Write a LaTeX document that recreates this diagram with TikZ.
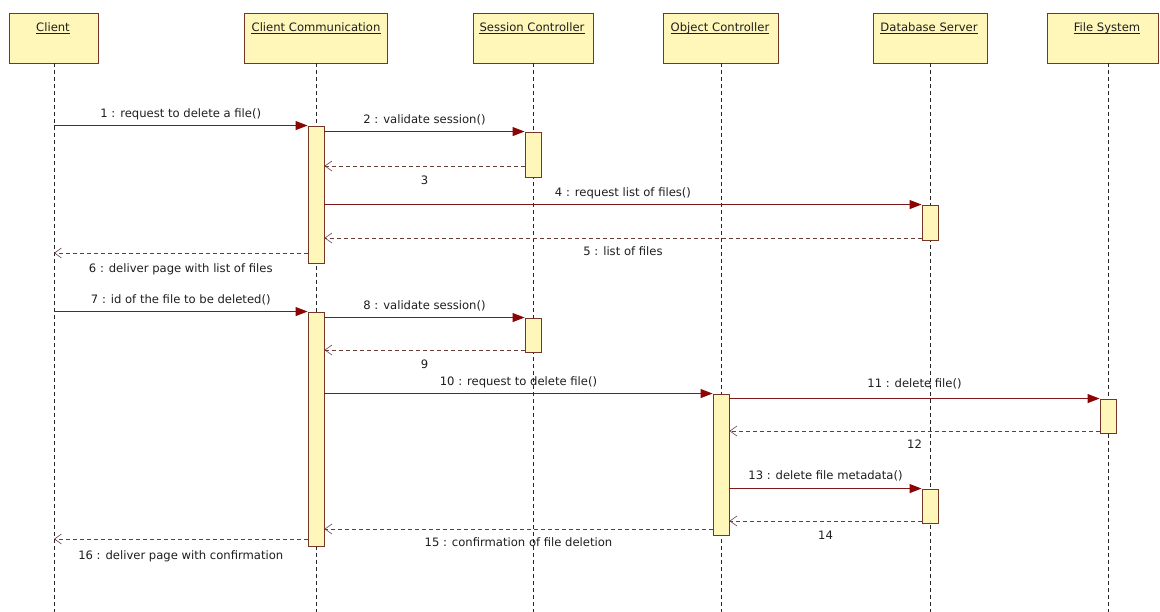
\documentclass[tikz,border=0pt]{standalone}
\usepackage{fontspec}
\setmainfont{DejaVu Sans}
\usetikzlibrary{arrows.meta}
\definecolor{boxfill}{RGB}{255,246,186}
\definecolor{boxline}{RGB}{115,55,40}
\definecolor{msgline}{RGB}{125,25,25}
\definecolor{tipred}{RGB}{140,5,5}
\definecolor{retline}{RGB}{105,60,60}
\definecolor{txt}{RGB}{30,30,30}
\begin{document}
\begin{tikzpicture}[x=1pt,y=-1pt,
  head/.style={draw=boxline, fill=boxfill, line width=0.9pt, minimum height=50pt, inner sep=0pt},
  headtext/.style={font=\fontsize{11.6}{13}\selectfont, text=txt, anchor=base, inner sep=0pt},
  act/.style={draw=boxline, fill=boxfill, line width=0.9pt, minimum width=16pt, inner sep=0pt},
  life/.style={draw=black!85, line width=0.7pt, dash pattern=on 4pt off 3pt},
  msg/.style={draw=msgline, line width=0.9pt, -{Triangle[length=12pt,width=9pt,fill=tipred,color=tipred]}},
  ret/.style={draw=retline, line width=0.7pt, dash pattern=on 4pt off 3pt,
    -{Straight Barb[length=7pt,width=10pt,line width=0.6pt]}},
  lbl/.style={font=\fontsize{11.6}{13}\selectfont, text=txt, inner sep=0pt, text height=9pt, text depth=2.5pt},
]
% canvas
\path[fill=white] (0,0) rectangle (1160,612);
\useasboundingbox (0,0) rectangle (1160,612);

% object headers
\node[head, minimum width=89pt]  (cl) at (54,38)    {};
\node[head, minimum width=143pt] (cc) at (316,38)   {};
\node[head, minimum width=120pt] (sc) at (533,38)   {};
\node[head, minimum width=115pt] (oc) at (721,38)   {};
\node[head, minimum width=114pt] (db) at (930,38)   {};
\node[head, minimum width=111pt] (fs) at (1102.5,38) {};

\node[headtext] (clt) at (53,31.5)   {Client};
\node[headtext] (cct) at (316,31.5)  {Client Communication};
\node[headtext] (sct) at (532,31.5)  {Session Controller};
\node[headtext] (oct) at (720,31.5)  {Object Controller};
\node[headtext] (dbt) at (929,31.5)  {Database Server};
\node[headtext] (fst) at (1107,31.5) {File System};
\foreach \t in {clt,cct,sct,oct,dbt,fst}
  \draw[txt, line width=0.6pt] ([yshift=-2pt]\t.base west) -- ([yshift=-2pt]\t.base east);

% lifelines
\draw[life] (cl.south) -- (cl.south |- 0,612);
\draw[life] (cc.south) -- (cc.south |- 0,612);
\draw[life] (sc.south) -- (sc.south |- 0,612);
\draw[life] (oc.south) -- (oc.south |- 0,612);
\draw[life] (db.south) -- (db.south |- 0,612);
\coordinate (fsl) at ([xshift=5.5pt]fs.south);
\draw[life] (fsl) -- (fsl |- 0,612);

% activation bars
\node[act, minimum height=137pt] (a1) at (316,194.5) {};
\node[act, minimum height=234pt] (a2) at (316,429)   {};
\node[act, minimum height=45pt]  (s1) at (533,154.5) {};
\node[act, minimum height=34pt]  (s2) at (533,335)   {};
\node[act, minimum height=35pt]  (d1) at (930,222.5) {};
\node[act, minimum height=34pt]  (d2) at (930,506)   {};
\node[act, minimum height=141pt] (o1) at (721,464.5) {};
\node[act, minimum height=34pt]  (f1) at (1108,416)  {};

% first exchange: listing the files
\draw[msg] (cl.south |- a1.north) -- node[lbl,above=5pt] {1 : request to delete a file()} (a1.north west);
\draw[msg] (a1.east |- s1.north) -- node[lbl,above=5pt] {2 : validate session()} (s1.north west);
\draw[ret] (s1.west |- 0,166) -- node[lbl,below=9pt] {3} (a1.east |- 0,166);
\draw[msg] (a1.east |- d1.north) -- node[lbl,above=5pt] {4 : request list of files()} (d1.north west);
\draw[ret] (d1.west |- 0,238) -- node[lbl,below=8pt] {5 : list of files} (a1.east |- 0,238);
\draw[ret] (a1.west |- 0,253) -- node[lbl,below=10pt] {6 : deliver page with list of files} (cl.south |- 0,253);

% second exchange: deleting the chosen file
\draw[msg] (cl.south |- a2.north) -- node[lbl,above=5pt] {7 : id of the file to be deleted()} (a2.north west);
\draw[msg] (a2.east |- s2.north) -- node[lbl,above=5pt] {8 : validate session()} (s2.north west);
\draw[ret] (s2.west |- 0,350) -- node[lbl,below=9pt] {9} (a2.east |- 0,350);
\draw[msg] (a2.east |- o1.north) -- node[lbl,above=5pt] {10 : request to delete file()} (o1.north west);
\draw[msg] (o1.east |- f1.north) -- node[lbl,above=8pt] {11 : delete file()} (f1.north west);
\draw[ret] (f1.west |- 0,431) -- node[lbl,below=8pt] {12} (o1.east |- 0,431);
\draw[msg] (o1.east |- d2.north) -- node[lbl,above=6pt] {13 : delete file metadata()} (d2.north west);
\draw[ret] (d2.west |- 0,521) -- node[lbl,below=9pt] {14} (o1.east |- 0,521);
\draw[ret] (o1.west |- 0,529) -- node[lbl,below=8pt] {15 : confirmation of file deletion} (a2.east |- 0,529);
\draw[ret] (a2.west |- 0,539) -- node[lbl,below=11pt] {16 : deliver page with confirmation} (cl.south |- 0,539);
\end{tikzpicture}
\end{document}
